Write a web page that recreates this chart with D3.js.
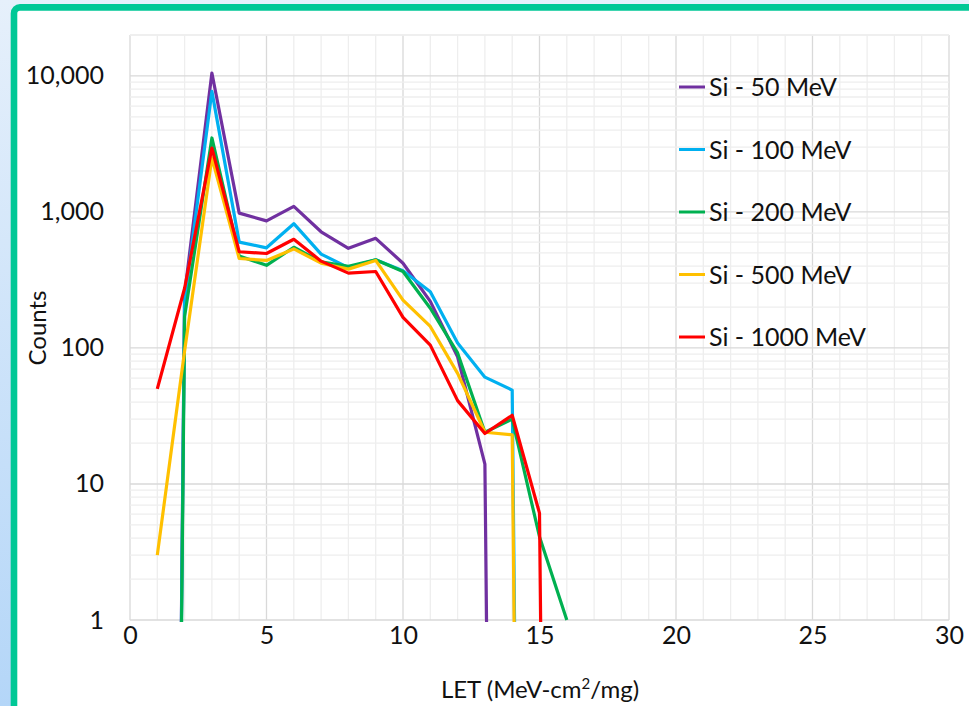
<!DOCTYPE html>
<html lang="en">
<head>
<meta charset="utf-8">
<title>LET counts</title>
<script src="https://d3js.org/d3.v7.min.js"></script>
<style>
  body { margin: 0; background: #ffffff; }
  text { font-family: Lato, "Open Sans", sans-serif; fill: #111; }
  .tick text { font-size: 25px; }
  .legend text { font-size: 25px; }
  .title { font-size: 24px; }
</style>
</head>
<body>
<div id="chart"></div>
<script>
// LET bins (MeV-cm2/mg)
var let_bins = [1, 2, 3, 4, 5, 6, 7, 8, 9, 10, 11, 12, 13, 14, 15, 16];

// counts per bin (0 = empty bin)
var si_50   = [0, 250, 10500, 980, 860, 1100, 715, 540, 640, 420, 220, 86, 14, 0, 0, 0];
var si_100  = [0, 220, 7700, 600, 545, 820, 490, 390, 445, 370, 259, 109, 61, 49, 0, 0];
var si_200  = [0, 170, 3500, 475, 405, 550, 430, 398, 445, 365, 196, 92, 24, 30, 4.1, 1];
var si_500  = [3, 95, 2500, 455, 440, 535, 420, 380, 440, 225, 144, 65, 24, 23, 0, 0];
var si_1000 = [50, 275, 2950, 510, 495, 630, 435, 355, 365, 168, 105, 41, 23.5, 32, 6.1, 0];

var series_names = ["Si - 50 MeV", "Si - 100 MeV", "Si - 200 MeV", "Si - 500 MeV", "Si - 1000 MeV"];
var series_colors = ["#7030A0", "#00B0F0", "#00B050", "#FFC000", "#FF0000"];
var series_values = [si_50, si_100, si_200, si_500, si_1000];

var x_ticks = [0, 5, 10, 15, 20, 25, 30];
var y_ticks = [1, 10, 100, 1000, 10000];

var w = 969, h = 706;
var pLeft = 130, pRight = 949, pTop = 35, pBottom = 620;
// empty bins get plotted at a tiny value, so the line dives off the bottom like Excel does
var ZERO_FLOOR = 1e-18;

var svg = d3.select("#chart").append("svg")
    .attr("width", w)
    .attr("height", h);

var defs = svg.append("defs");
var grad = defs.append("linearGradient")
    .attr("id", "bg").attr("x1", 0).attr("y1", 0).attr("x2", 0).attr("y2", 1);
grad.append("stop").attr("offset", "0%").attr("stop-color", "#e6f0fb");
grad.append("stop").attr("offset", "100%").attr("stop-color", "#b4d6f8");

defs.append("clipPath").attr("id", "plotclip")
  .append("rect")
    .attr("x", pLeft).attr("y", pTop)
    .attr("width", pRight - pLeft).attr("height", pBottom - pTop + 2);

// page background + green framed panel
svg.append("rect").attr("width", w).attr("height", h).attr("fill", "url(#bg)");
svg.append("rect")
    .attr("x", 14).attr("y", 7.4)
    .attr("width", w + 40).attr("height", h + 40)
    .attr("rx", 6)
    .attr("fill", "#ffffff")
    .attr("stroke", "#00c896")
    .attr("stroke-width", 6.6);

var x = d3.scaleLinear().domain([0, 30]).range([pLeft, pRight]);
var y = d3.scaleLog().domain([1, 20000]).range([pBottom, pTop]);

// gridlines
var grid = svg.append("g");
var xgrid = d3.range(0, 31);
grid.selectAll(".vx")
    .data(xgrid)
    .enter()
    .append("line")
      .attr("x1", function(d) { return x(d); })
      .attr("x2", function(d) { return x(d); })
      .attr("y1", pTop).attr("y2", pBottom)
      .attr("stroke", function(d) { return d % 5 === 0 ? "#d9d9d9" : "#eeeeee"; })
      .attr("stroke-width", 1.3);

var ygrid = [];
[1, 10, 100, 1000, 10000].forEach(function(dec) {
    for (var k = 1; k <= 9; k++) {
        if (dec * k <= 20000) ygrid.push(dec * k);
    }
});
ygrid.push(20000);
grid.selectAll(".hy")
    .data(ygrid)
    .enter()
    .append("line")
      .attr("x1", pLeft).attr("x2", pRight)
      .attr("y1", function(d) { return y(d); })
      .attr("y2", function(d) { return y(d); })
      .attr("stroke", function(d) { return y_ticks.indexOf(d) >= 0 ? "#d9d9d9" : "#eeeeee"; })
      .attr("stroke-width", 1.3);

// axes (labels only)
var xAxis = svg.append("g")
    .attr("transform", "translate(0," + pBottom + ")")
    .call(d3.axisBottom(x).tickValues(x_ticks).tickSize(0).tickPadding(6).tickFormat(d3.format("d")));
xAxis.select(".domain").remove();

var yAxis = svg.append("g")
    .attr("transform", "translate(" + pLeft + ",0)")
    .call(d3.axisLeft(y).tickValues(y_ticks).tickSize(0).tickPadding(26).tickFormat(d3.format(",")));
yAxis.select(".domain").remove();
svg.selectAll(".tick text").attr("fill", "#111").style("font-family", "Lato, sans-serif");

svg.append("text")
    .attr("class", "title")
    .attr("transform", "translate(46," + 328 + ") rotate(-90)")
    .style("text-anchor", "middle")
    .text("Counts");

var xt = svg.append("text")
    .attr("class", "title")
    .attr("x", 540).attr("y", 698)
    .style("text-anchor", "middle");
xt.append("tspan").text("LET (MeV-cm");
xt.append("tspan").attr("dy", -9).style("font-size", "15px").text("2");
xt.append("tspan").attr("dy", 9).text("/mg)");

// series lines
var line = d3.line()
    .x(function(d) { return x(d[0]); })
    .y(function(d) { return y(d[1] > 0 ? d[1] : ZERO_FLOOR); });

var lines = svg.append("g").attr("clip-path", "url(#plotclip)");
lines.selectAll("path")
    .data(series_values)
    .enter()
    .append("path")
      .attr("d", function(vals) {
          return line(let_bins.map(function(b, i) { return [b, vals[i]]; }));
      })
      .attr("fill", "none")
      .attr("stroke", function(d, i) { return series_colors[i]; })
      .attr("stroke-width", 3.2)
      .attr("stroke-linejoin", "round");

// legend
var legend = svg.append("g").attr("class", "legend");
var rows = legend.selectAll("g")
    .data(series_names)
    .enter()
    .append("g")
      .attr("transform", function(d, i) { return "translate(679," + (87 + i * 62.5) + ")"; });
rows.append("line")
    .attr("x1", 0).attr("x2", 26)
    .attr("stroke", function(d, i) { return series_colors[i]; })
    .attr("stroke-width", 3);
rows.append("text")
    .attr("x", 30).attr("y", 9)
    .text(function(d) { return d; });
</script>
</body>
</html>
